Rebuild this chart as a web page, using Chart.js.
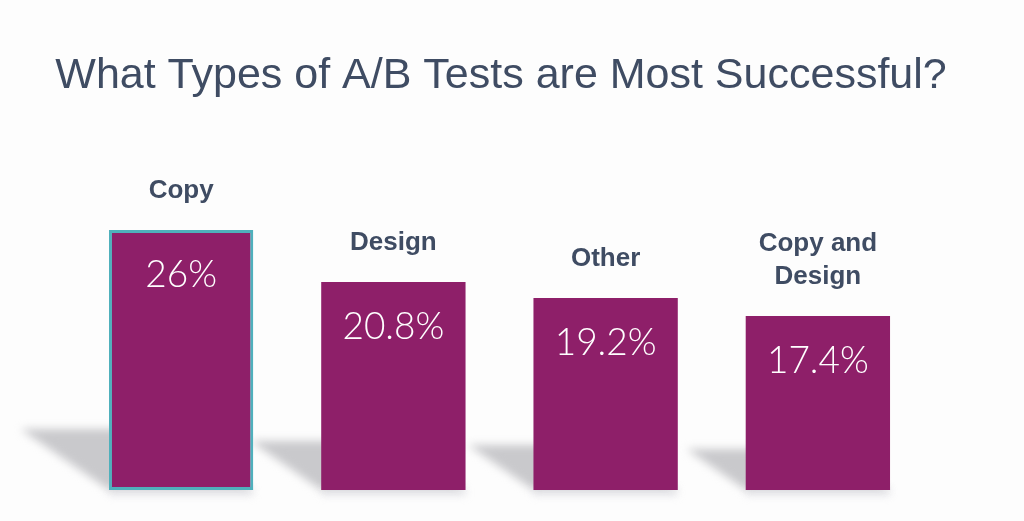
<!DOCTYPE html>
<html>
<head>
<meta charset="utf-8">
<script src="https://cdn.jsdelivr.net/npm/chart.js@4/dist/chart.umd.min.js"></script>
<style>
  html, body { margin: 0; padding: 0; background: #fdfdfd; }
  #wrap { width: 1024px; height: 521px; position: relative; }
</style>
</head>
<body>
<div id="wrap"><canvas id="chart" width="1024" height="521"></canvas></div>
<script>
var titleText = "What Types of A/B Tests are Most Successful?";
var categories = ["Copy", "Design", "Other", ["Copy and", "Design"]];
var shares = [26, 20.8, 19.2, 17.4];
var shareLabels = ["26%", "20.8%", "19.2%", "17.4%"];

var slate = "#3f4c63";
var plum = "#8e1f69";
var teal = "#4fb0bc";

// gray floor shadow cast back-left from each bar
var floorShadow = {
  id: "floorShadow",
  beforeDatasetsDraw: function (chart) {
    var ctx = chart.ctx;
    var base = chart.scales.y.getPixelForValue(0);
    chart.getDatasetMeta(0).data.forEach(function (bar) {
      var h = base - bar.y;
      var left = bar.x - bar.width / 2;
      var right = bar.x + bar.width / 2;
      var dx = h * 0.34, dy = h * 0.235;
      ctx.save();
      ctx.filter = "blur(4px)";
      ctx.fillStyle = "#c9c9cc";
      ctx.beginPath();
      ctx.moveTo(left, base);
      ctx.lineTo(left - dx, base - dy);
      ctx.lineTo(right - dx, base - dy);
      ctx.lineTo(right, base);
      ctx.closePath();
      ctx.fill();
      ctx.fillStyle = "rgba(200,200,210,0.5)";
      ctx.fillRect(left, base, bar.width, 5);
      ctx.restore();
    });
  },
};

// title, category name above each bar, percentage inside it
var barText = {
  id: "barText",
  afterDatasetsDraw: function (chart) {
    var ctx = chart.ctx;
    ctx.save();
    ctx.textAlign = "center";
    ctx.textBaseline = "alphabetic";
    ctx.fillStyle = slate;
    ctx.font = "43px 'Liberation Sans', Arial, sans-serif";
    ctx.fillText(titleText, 501, 88);
    ctx.restore();

    chart.getDatasetMeta(0).data.forEach(function (bar, i) {
      var lines = [].concat(categories[i]);
      ctx.save();
      ctx.textAlign = "center";
      ctx.textBaseline = "alphabetic";
      ctx.fillStyle = slate;
      ctx.font = "bold 26px 'Liberation Sans', Arial, sans-serif";
      for (var k = 0; k < lines.length; k++) {
        var y = bar.y - 32 - (lines.length - 1 - k) * 33;
        ctx.fillText(lines[k], bar.x, y);
      }
      ctx.fillStyle = "#ffffff";
      ctx.font = "300 37px Lato, 'Open Sans', sans-serif";
      ctx.fillText(shareLabels[i], bar.x, bar.y + 57);
      ctx.restore();
    });
  },
};

new Chart(document.getElementById("chart").getContext("2d"), {
  type: "bar",
  data: {
    labels: categories,
    datasets: [
      {
        data: shares,
        backgroundColor: plum,
        borderColor: [teal, plum, plum, plum],
        borderWidth: [3, 0, 0, 0],
        borderSkipped: false,
        barPercentage: 0.68,
        categoryPercentage: 1,
      },
    ],
  },
  options: {
    responsive: false,
    animation: false,
    layout: { padding: { left: 75, right: 100, top: 190, bottom: 31 } },
    plugins: {
      legend: { display: false },
      tooltip: { enabled: false },
      title: { display: false },
    },
    scales: {
      x: { display: false },
      y: { display: false, min: 0, max: 30 },
    },
  },
  plugins: [floorShadow, barText],
});
</script>
</body>
</html>
